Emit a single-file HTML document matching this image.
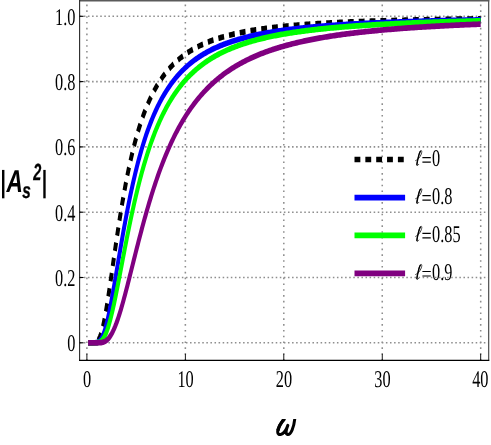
<!DOCTYPE html>
<html><head><meta charset="utf-8"><title>plot</title>
<style>
html,body{margin:0;padding:0;background:#fff;}
body{width:491px;height:445px;overflow:hidden;font-family:"Liberation Sans",sans-serif;}
svg{display:block;text-rendering:geometricPrecision;}
.t{font-family:"Liberation Serif",serif;font-size:24px;fill:#000;}
.b{font-family:"Liberation Sans",sans-serif;font-weight:bold;font-style:italic;fill:#000;}
</style></head><body>
<svg width="491" height="445" viewBox="0 0 491 445">
<rect width="491" height="445" fill="#fff"/>
<g transform="scale(0.700,1)">
<line x1="124.14" y1="360.55" x2="124.14" y2="1.00" stroke="#8e8e8e" stroke-width="2.2" stroke-dasharray="1.6 4.21"/>
<line x1="264.79" y1="360.55" x2="264.79" y2="1.00" stroke="#8e8e8e" stroke-width="2.2" stroke-dasharray="1.6 4.21"/>
<line x1="405.43" y1="360.55" x2="405.43" y2="1.00" stroke="#8e8e8e" stroke-width="2.2" stroke-dasharray="1.6 4.21"/>
<line x1="546.07" y1="360.55" x2="546.07" y2="1.00" stroke="#8e8e8e" stroke-width="2.2" stroke-dasharray="1.6 4.21"/>
<line x1="686.71" y1="360.55" x2="686.71" y2="1.00" stroke="#8e8e8e" stroke-width="2.2" stroke-dasharray="1.6 4.21"/>
<line x1="114.04" y1="342.80" x2="698.29" y2="342.80" stroke="#8e8e8e" stroke-width="1.6" stroke-dasharray="2.2 3.63"/>
<line x1="114.04" y1="277.50" x2="698.29" y2="277.50" stroke="#8e8e8e" stroke-width="1.6" stroke-dasharray="2.2 3.63"/>
<line x1="114.04" y1="212.20" x2="698.29" y2="212.20" stroke="#8e8e8e" stroke-width="1.6" stroke-dasharray="2.2 3.63"/>
<line x1="114.04" y1="146.90" x2="698.29" y2="146.90" stroke="#8e8e8e" stroke-width="1.6" stroke-dasharray="2.2 3.63"/>
<line x1="114.04" y1="81.60" x2="698.29" y2="81.60" stroke="#8e8e8e" stroke-width="1.6" stroke-dasharray="2.2 3.63"/>
<line x1="114.04" y1="16.30" x2="698.29" y2="16.30" stroke="#8e8e8e" stroke-width="1.6" stroke-dasharray="2.2 3.63"/>
<clipPath id="c"><rect x="113.57" y="1.00" width="584.71" height="359.40"/></clipPath>
<g clip-path="url(#c)" fill="none" stroke-width="5.70" stroke-linejoin="round">
<path d="M125.83 342.80 L125.87 342.80 L125.95 342.80 L126.05 342.80 L126.18 342.80 L126.34 342.80 L126.51 342.80 L126.70 342.80 L126.90 342.80 L127.13 342.80 L127.36 342.80 L127.62 342.80 L127.88 342.80 L128.16 342.80 L128.46 342.80 L128.76 342.80 L129.08 342.80 L129.41 342.80 L129.76 342.80 L130.11 342.80 L130.48 342.80 L130.86 342.80 L131.24 342.80 L131.64 342.80 L132.05 342.80 L132.47 342.79 L132.90 342.79 L133.34 342.77 L133.79 342.76 L134.25 342.73 L134.72 342.70 L135.20 342.64 L135.69 342.57 L136.19 342.47 L136.69 342.34 L137.21 342.17 L137.73 341.96 L138.27 341.69 L138.81 341.36 L139.36 340.96 L139.92 340.48 L140.49 339.91 L141.06 339.25 L141.65 338.48 L142.24 337.60 L142.84 336.60 L143.45 335.47 L144.07 334.22 L144.69 332.83 L145.32 331.30 L145.96 329.63 L146.61 327.81 L147.27 325.85 L147.93 323.75 L148.60 321.50 L149.28 319.11 L149.97 316.58 L150.66 313.92 L151.36 311.12 L152.07 308.20 L152.78 305.16 L153.51 302.01 L154.24 298.75 L154.97 295.39 L155.72 291.93 L156.47 288.40 L157.22 284.78 L157.99 281.09 L158.76 277.34 L159.54 273.54 L160.32 269.68 L161.12 265.79 L161.91 261.87 L162.72 257.91 L163.53 253.94 L164.35 249.96 L165.17 245.97 L166.01 241.98 L166.84 238.00 L167.69 234.03 L168.54 230.07 L169.40 226.14 L170.26 222.22 L171.13 218.34 L172.01 214.49 L172.89 210.68 L173.78 206.90 L174.67 203.17 L175.58 199.48 L176.48 195.84 L177.40 192.25 L178.32 188.71 L179.24 185.22 L180.17 181.78 L181.11 178.40 L182.06 175.07 L183.01 171.81 L183.96 168.59 L184.92 165.44 L185.89 162.34 L186.87 159.30 L187.84 156.32 L188.83 153.40 L189.82 150.53 L190.82 147.72 L191.82 144.97 L192.83 142.28 L193.84 139.64 L194.86 137.06 L195.89 134.53 L196.92 132.06 L197.96 129.64 L199.00 127.27 L200.05 124.96 L201.10 122.69 L202.16 120.48 L203.22 118.32 L204.30 116.20 L205.37 114.14 L206.45 112.12 L207.54 110.14 L208.63 108.21 L209.73 106.33 L210.83 104.49 L211.94 102.69 L213.05 100.93 L214.17 99.22 L215.30 97.54 L216.43 95.90 L217.56 94.30 L218.70 92.74 L219.85 91.21 L221.00 89.72 L222.16 88.26 L223.32 86.84 L224.48 85.45 L225.66 84.10 L226.83 82.77 L228.01 81.47 L229.20 80.21 L230.39 78.97 L231.59 77.76 L232.79 76.58 L234.00 75.43 L235.22 74.31 L236.43 73.21 L237.66 72.13 L238.88 71.08 L240.12 70.05 L241.36 69.05 L242.60 68.07 L243.85 67.11 L245.10 66.17 L246.36 65.26 L247.62 64.36 L248.89 63.49 L250.16 62.63 L251.44 61.79 L252.72 60.97 L254.01 60.17 L255.30 59.39 L256.60 58.63 L257.90 57.88 L259.21 57.15 L260.52 56.43 L261.83 55.73 L263.16 55.04 L264.48 54.37 L265.81 53.72 L267.15 53.07 L268.49 52.45 L269.83 51.83 L271.18 51.23 L272.54 50.64 L273.90 50.06 L275.26 49.50 L276.63 48.95 L278.00 48.40 L279.38 47.87 L280.76 47.36 L282.15 46.85 L283.54 46.35 L284.94 45.86 L286.34 45.38 L287.74 44.92 L289.16 44.46 L290.57 44.01 L291.99 43.57 L293.41 43.14 L294.84 42.71 L296.27 42.30 L297.71 41.89 L299.15 41.49 L300.60 41.10 L302.05 40.72 L303.51 40.35 L304.97 39.98 L306.43 39.62 L307.90 39.26 L309.38 38.92 L310.85 38.58 L312.34 38.24 L313.82 37.92 L315.31 37.60 L316.81 37.28 L318.31 36.97 L319.81 36.67 L321.32 36.37 L322.84 36.08 L324.35 35.79 L325.88 35.51 L327.40 35.23 L328.93 34.96 L330.47 34.70 L332.01 34.44 L333.55 34.18 L335.10 33.93 L336.65 33.68 L338.21 33.44 L339.77 33.20 L341.33 32.96 L342.90 32.73 L344.48 32.51 L346.05 32.29 L347.64 32.07 L349.22 31.85 L350.81 31.64 L352.41 31.44 L354.01 31.23 L355.61 31.03 L357.22 30.84 L358.83 30.64 L360.45 30.45 L362.07 30.27 L363.69 30.08 L365.32 29.90 L366.95 29.73 L368.59 29.55 L370.23 29.38 L371.87 29.21 L373.52 29.05 L375.18 28.88 L376.84 28.72 L378.50 28.56 L380.16 28.41 L381.83 28.26 L383.51 28.11 L385.18 27.96 L386.87 27.81 L388.55 27.67 L390.24 27.53 L391.94 27.39 L393.63 27.26 L395.34 27.12 L397.04 26.99 L398.75 26.86 L400.47 26.73 L402.19 26.61 L403.91 26.48 L405.64 26.36 L407.37 26.24 L409.10 26.12 L410.84 26.01 L412.58 25.89 L414.33 25.78 L416.08 25.67 L417.83 25.56 L419.59 25.45 L421.35 25.34 L423.12 25.24 L424.89 25.14 L426.67 25.03 L428.44 24.93 L430.23 24.84 L432.01 24.74 L433.80 24.64 L435.59 24.55 L437.39 24.46 L439.19 24.36 L441.00 24.27 L442.81 24.19 L444.62 24.10 L446.44 24.01 L448.26 23.93 L450.09 23.84 L451.91 23.76 L453.75 23.68 L455.58 23.60 L457.42 23.52 L459.27 23.44 L461.12 23.36 L462.97 23.29 L464.82 23.21 L466.68 23.14 L468.55 23.07 L470.41 23.00 L472.28 22.92 L474.16 22.85 L476.04 22.79 L477.92 22.72 L479.80 22.65 L481.69 22.58 L483.59 22.52 L485.48 22.46 L487.39 22.39 L489.29 22.33 L491.20 22.27 L493.11 22.21 L495.03 22.15 L496.95 22.09 L498.87 22.03 L500.80 21.97 L502.73 21.91 L504.66 21.86 L506.60 21.80 L508.54 21.75 L510.49 21.69 L512.44 21.64 L514.39 21.59 L516.35 21.53 L518.31 21.48 L520.27 21.43 L522.24 21.38 L524.21 21.33 L526.19 21.28 L528.17 21.24 L530.15 21.19 L532.14 21.14 L534.13 21.09 L536.12 21.05 L538.12 21.00 L540.12 20.96 L542.12 20.91 L544.13 20.87 L546.14 20.83 L548.16 20.79 L550.18 20.74 L552.20 20.70 L554.22 20.66 L556.25 20.62 L558.29 20.58 L560.32 20.54 L562.37 20.50 L564.41 20.46 L566.46 20.43 L568.51 20.39 L570.56 20.35 L572.62 20.31 L574.68 20.28 L576.75 20.24 L578.82 20.21 L580.89 20.17 L582.97 20.14 L585.05 20.10 L587.13 20.07 L589.22 20.03 L591.31 20.00 L593.40 19.97 L595.50 19.94 L597.60 19.90 L599.70 19.87 L601.81 19.84 L603.92 19.81 L606.04 19.78 L608.15 19.75 L610.28 19.72 L612.40 19.69 L614.53 19.66 L616.66 19.63 L618.80 19.60 L620.94 19.58 L623.08 19.55 L625.23 19.52 L627.38 19.49 L629.53 19.47 L631.69 19.44 L633.85 19.41 L636.01 19.39 L638.18 19.36 L640.35 19.34 L642.52 19.31 L644.70 19.29 L646.88 19.26 L649.06 19.24 L651.25 19.21 L653.44 19.19 L655.64 19.16 L657.83 19.14 L660.04 19.12 L662.24 19.09 L664.45 19.07 L666.66 19.05 L668.87 19.03 L671.09 19.01 L673.31 18.98 L675.54 18.96 L677.77 18.94 L680.00 18.92 L682.23 18.90 L684.47 18.88 L686.71 18.86" stroke="#000000" stroke-dasharray="8.35 7.15" stroke-dashoffset="0.4"/>
<path d="M125.83 342.80 L125.87 342.80 L125.95 342.80 L126.05 342.80 L126.18 342.80 L126.34 342.80 L126.51 342.80 L126.70 342.80 L126.90 342.80 L127.13 342.80 L127.36 342.80 L127.62 342.80 L127.88 342.80 L128.16 342.80 L128.46 342.80 L128.76 342.80 L129.08 342.80 L129.41 342.80 L129.76 342.80 L130.11 342.80 L130.48 342.80 L130.86 342.80 L131.24 342.80 L131.64 342.80 L132.05 342.80 L132.47 342.80 L132.90 342.80 L133.34 342.80 L133.79 342.79 L134.25 342.79 L134.72 342.78 L135.20 342.77 L135.69 342.75 L136.19 342.73 L136.69 342.69 L137.21 342.65 L137.73 342.58 L138.27 342.50 L138.81 342.39 L139.36 342.25 L139.92 342.07 L140.49 341.85 L141.06 341.59 L141.65 341.27 L142.24 340.90 L142.84 340.45 L143.45 339.94 L144.07 339.34 L144.69 338.67 L145.32 337.90 L145.96 337.03 L146.61 336.07 L147.27 335.00 L147.93 333.82 L148.60 332.53 L149.28 331.13 L149.97 329.61 L150.66 327.97 L151.36 326.22 L152.07 324.34 L152.78 322.35 L153.51 320.25 L154.24 318.02 L154.97 315.69 L155.72 313.25 L156.47 310.70 L157.22 308.05 L157.99 305.31 L158.76 302.47 L159.54 299.54 L160.32 296.53 L161.12 293.44 L161.91 290.28 L162.72 287.05 L163.53 283.77 L164.35 280.42 L165.17 277.03 L166.01 273.59 L166.84 270.12 L167.69 266.61 L168.54 263.07 L169.40 259.51 L170.26 255.94 L171.13 252.35 L172.01 248.75 L172.89 245.15 L173.78 241.55 L174.67 237.96 L175.58 234.37 L176.48 230.80 L177.40 227.24 L178.32 223.70 L179.24 220.19 L180.17 216.70 L181.11 213.24 L182.06 209.81 L183.01 206.41 L183.96 203.05 L184.92 199.72 L185.89 196.43 L186.87 193.18 L187.84 189.97 L188.83 186.80 L189.82 183.68 L190.82 180.60 L191.82 177.57 L192.83 174.58 L193.84 171.63 L194.86 168.74 L195.89 165.89 L196.92 163.09 L197.96 160.33 L199.00 157.62 L200.05 154.96 L201.10 152.35 L202.16 149.78 L203.22 147.26 L204.30 144.78 L205.37 142.36 L206.45 139.97 L207.54 137.64 L208.63 135.34 L209.73 133.10 L210.83 130.89 L211.94 128.73 L213.05 126.61 L214.17 124.54 L215.30 122.50 L216.43 120.51 L217.56 118.56 L218.70 116.65 L219.85 114.77 L221.00 112.94 L222.16 111.14 L223.32 109.38 L224.48 107.65 L225.66 105.96 L226.83 104.31 L228.01 102.69 L229.20 101.11 L230.39 99.55 L231.59 98.03 L232.79 96.55 L234.00 95.09 L235.22 93.66 L236.43 92.27 L237.66 90.90 L238.88 89.56 L240.12 88.25 L241.36 86.97 L242.60 85.71 L243.85 84.48 L245.10 83.27 L246.36 82.10 L247.62 80.94 L248.89 79.81 L250.16 78.70 L251.44 77.62 L252.72 76.56 L254.01 75.52 L255.30 74.50 L256.60 73.50 L257.90 72.53 L259.21 71.57 L260.52 70.64 L261.83 69.72 L263.16 68.82 L264.48 67.94 L265.81 67.08 L267.15 66.23 L268.49 65.41 L269.83 64.60 L271.18 63.80 L272.54 63.02 L273.90 62.26 L275.26 61.51 L276.63 60.78 L278.00 60.06 L279.38 59.36 L280.76 58.67 L282.15 57.99 L283.54 57.33 L284.94 56.68 L286.34 56.04 L287.74 55.42 L289.16 54.81 L290.57 54.21 L291.99 53.62 L293.41 53.04 L294.84 52.48 L296.27 51.92 L297.71 51.38 L299.15 50.84 L300.60 50.32 L302.05 49.80 L303.51 49.30 L304.97 48.80 L306.43 48.32 L307.90 47.84 L309.38 47.38 L310.85 46.92 L312.34 46.47 L313.82 46.02 L315.31 45.59 L316.81 45.16 L318.31 44.75 L319.81 44.34 L321.32 43.93 L322.84 43.54 L324.35 43.15 L325.88 42.77 L327.40 42.39 L328.93 42.03 L330.47 41.66 L332.01 41.31 L333.55 40.96 L335.10 40.62 L336.65 40.28 L338.21 39.95 L339.77 39.63 L341.33 39.31 L342.90 38.99 L344.48 38.69 L346.05 38.38 L347.64 38.09 L349.22 37.79 L350.81 37.51 L352.41 37.22 L354.01 36.95 L355.61 36.67 L357.22 36.40 L358.83 36.14 L360.45 35.88 L362.07 35.63 L363.69 35.38 L365.32 35.13 L366.95 34.89 L368.59 34.65 L370.23 34.41 L371.87 34.18 L373.52 33.95 L375.18 33.73 L376.84 33.51 L378.50 33.29 L380.16 33.08 L381.83 32.87 L383.51 32.67 L385.18 32.46 L386.87 32.26 L388.55 32.07 L390.24 31.87 L391.94 31.68 L393.63 31.50 L395.34 31.31 L397.04 31.13 L398.75 30.95 L400.47 30.78 L402.19 30.60 L403.91 30.43 L405.64 30.27 L407.37 30.10 L409.10 29.94 L410.84 29.78 L412.58 29.62 L414.33 29.46 L416.08 29.31 L417.83 29.16 L419.59 29.01 L421.35 28.86 L423.12 28.72 L424.89 28.58 L426.67 28.44 L428.44 28.30 L430.23 28.16 L432.01 28.03 L433.80 27.90 L435.59 27.77 L437.39 27.64 L439.19 27.51 L441.00 27.39 L442.81 27.27 L444.62 27.15 L446.44 27.03 L448.26 26.91 L450.09 26.79 L451.91 26.68 L453.75 26.57 L455.58 26.45 L457.42 26.35 L459.27 26.24 L461.12 26.13 L462.97 26.03 L464.82 25.92 L466.68 25.82 L468.55 25.72 L470.41 25.62 L472.28 25.52 L474.16 25.43 L476.04 25.33 L477.92 25.24 L479.80 25.14 L481.69 25.05 L483.59 24.96 L485.48 24.87 L487.39 24.78 L489.29 24.70 L491.20 24.61 L493.11 24.53 L495.03 24.44 L496.95 24.36 L498.87 24.28 L500.80 24.20 L502.73 24.12 L504.66 24.04 L506.60 23.97 L508.54 23.89 L510.49 23.82 L512.44 23.74 L514.39 23.67 L516.35 23.60 L518.31 23.52 L520.27 23.45 L522.24 23.38 L524.21 23.32 L526.19 23.25 L528.17 23.18 L530.15 23.11 L532.14 23.05 L534.13 22.99 L536.12 22.92 L538.12 22.86 L540.12 22.80 L542.12 22.74 L544.13 22.67 L546.14 22.61 L548.16 22.56 L550.18 22.50 L552.20 22.44 L554.22 22.38 L556.25 22.33 L558.29 22.27 L560.32 22.22 L562.37 22.16 L564.41 22.11 L566.46 22.05 L568.51 22.00 L570.56 21.95 L572.62 21.90 L574.68 21.85 L576.75 21.80 L578.82 21.75 L580.89 21.70 L582.97 21.65 L585.05 21.60 L587.13 21.56 L589.22 21.51 L591.31 21.46 L593.40 21.42 L595.50 21.37 L597.60 21.33 L599.70 21.29 L601.81 21.24 L603.92 21.20 L606.04 21.16 L608.15 21.12 L610.28 21.07 L612.40 21.03 L614.53 20.99 L616.66 20.95 L618.80 20.91 L620.94 20.87 L623.08 20.83 L625.23 20.80 L627.38 20.76 L629.53 20.72 L631.69 20.68 L633.85 20.65 L636.01 20.61 L638.18 20.57 L640.35 20.54 L642.52 20.50 L644.70 20.47 L646.88 20.43 L649.06 20.40 L651.25 20.37 L653.44 20.33 L655.64 20.30 L657.83 20.27 L660.04 20.24 L662.24 20.20 L664.45 20.17 L666.66 20.14 L668.87 20.11 L671.09 20.08 L673.31 20.05 L675.54 20.02 L677.77 19.99 L680.00 19.96 L682.23 19.93 L684.47 19.90 L686.71 19.87" stroke="#0000ff"/>
<path d="M125.83 342.80 L125.87 342.80 L125.95 342.80 L126.05 342.80 L126.18 342.80 L126.34 342.80 L126.51 342.80 L126.70 342.80 L126.90 342.80 L127.13 342.80 L127.36 342.80 L127.62 342.80 L127.88 342.80 L128.16 342.80 L128.46 342.80 L128.76 342.80 L129.08 342.80 L129.41 342.80 L129.76 342.80 L130.11 342.80 L130.48 342.80 L130.86 342.80 L131.24 342.80 L131.64 342.80 L132.05 342.80 L132.47 342.80 L132.90 342.80 L133.34 342.80 L133.79 342.80 L134.25 342.80 L134.72 342.80 L135.20 342.79 L135.69 342.79 L136.19 342.78 L136.69 342.77 L137.21 342.75 L137.73 342.73 L138.27 342.70 L138.81 342.66 L139.36 342.60 L139.92 342.53 L140.49 342.43 L141.06 342.31 L141.65 342.17 L142.24 341.99 L142.84 341.77 L143.45 341.51 L144.07 341.21 L144.69 340.85 L145.32 340.43 L145.96 339.95 L146.61 339.40 L147.27 338.78 L147.93 338.08 L148.60 337.30 L149.28 336.44 L149.97 335.49 L150.66 334.44 L151.36 333.30 L152.07 332.06 L152.78 330.73 L153.51 329.29 L154.24 327.75 L154.97 326.11 L155.72 324.37 L156.47 322.52 L157.22 320.58 L157.99 318.54 L158.76 316.40 L159.54 314.17 L160.32 311.84 L161.12 309.43 L161.91 306.93 L162.72 304.34 L163.53 301.68 L164.35 298.95 L165.17 296.14 L166.01 293.27 L166.84 290.34 L167.69 287.35 L168.54 284.30 L169.40 281.21 L170.26 278.07 L171.13 274.90 L172.01 271.69 L172.89 268.45 L173.78 265.18 L174.67 261.89 L175.58 258.59 L176.48 255.27 L177.40 251.94 L178.32 248.60 L179.24 245.26 L180.17 241.92 L181.11 238.59 L182.06 235.26 L183.01 231.95 L183.96 228.64 L184.92 225.35 L185.89 222.08 L186.87 218.84 L187.84 215.61 L188.83 212.41 L189.82 209.23 L190.82 206.09 L191.82 202.97 L192.83 199.88 L193.84 196.83 L194.86 193.81 L195.89 190.83 L196.92 187.88 L197.96 184.97 L199.00 182.10 L200.05 179.26 L201.10 176.47 L202.16 173.71 L203.22 170.99 L204.30 168.31 L205.37 165.68 L206.45 163.08 L207.54 160.53 L208.63 158.01 L209.73 155.54 L210.83 153.10 L211.94 150.71 L213.05 148.35 L214.17 146.04 L215.30 143.77 L216.43 141.53 L217.56 139.34 L218.70 137.18 L219.85 135.06 L221.00 132.98 L222.16 130.94 L223.32 128.94 L224.48 126.97 L225.66 125.04 L226.83 123.14 L228.01 121.28 L229.20 119.46 L230.39 117.66 L231.59 115.91 L232.79 114.18 L234.00 112.49 L235.22 110.83 L236.43 109.21 L237.66 107.61 L238.88 106.05 L240.12 104.51 L241.36 103.00 L242.60 101.53 L243.85 100.08 L245.10 98.66 L246.36 97.27 L247.62 95.90 L248.89 94.56 L250.16 93.25 L251.44 91.97 L252.72 90.70 L254.01 89.47 L255.30 88.25 L256.60 87.06 L257.90 85.90 L259.21 84.75 L260.52 83.63 L261.83 82.53 L263.16 81.45 L264.48 80.39 L265.81 79.35 L267.15 78.34 L268.49 77.34 L269.83 76.36 L271.18 75.40 L272.54 74.46 L273.90 73.54 L275.26 72.63 L276.63 71.74 L278.00 70.87 L279.38 70.02 L280.76 69.18 L282.15 68.35 L283.54 67.55 L284.94 66.75 L286.34 65.98 L287.74 65.22 L289.16 64.47 L290.57 63.73 L291.99 63.01 L293.41 62.31 L294.84 61.61 L296.27 60.93 L297.71 60.26 L299.15 59.61 L300.60 58.96 L302.05 58.33 L303.51 57.71 L304.97 57.10 L306.43 56.50 L307.90 55.92 L309.38 55.34 L310.85 54.77 L312.34 54.22 L313.82 53.67 L315.31 53.14 L316.81 52.61 L318.31 52.09 L319.81 51.59 L321.32 51.09 L322.84 50.60 L324.35 50.11 L325.88 49.64 L327.40 49.18 L328.93 48.72 L330.47 48.27 L332.01 47.83 L333.55 47.40 L335.10 46.97 L336.65 46.55 L338.21 46.14 L339.77 45.74 L341.33 45.34 L342.90 44.95 L344.48 44.57 L346.05 44.19 L347.64 43.82 L349.22 43.45 L350.81 43.10 L352.41 42.74 L354.01 42.40 L355.61 42.06 L357.22 41.72 L358.83 41.39 L360.45 41.07 L362.07 40.75 L363.69 40.43 L365.32 40.12 L366.95 39.82 L368.59 39.52 L370.23 39.23 L371.87 38.94 L373.52 38.65 L375.18 38.37 L376.84 38.10 L378.50 37.83 L380.16 37.56 L381.83 37.30 L383.51 37.04 L385.18 36.78 L386.87 36.53 L388.55 36.29 L390.24 36.04 L391.94 35.80 L393.63 35.57 L395.34 35.34 L397.04 35.11 L398.75 34.89 L400.47 34.66 L402.19 34.45 L403.91 34.23 L405.64 34.02 L407.37 33.81 L409.10 33.61 L410.84 33.41 L412.58 33.21 L414.33 33.01 L416.08 32.82 L417.83 32.63 L419.59 32.44 L421.35 32.26 L423.12 32.07 L424.89 31.89 L426.67 31.72 L428.44 31.54 L430.23 31.37 L432.01 31.20 L433.80 31.04 L435.59 30.87 L437.39 30.71 L439.19 30.55 L441.00 30.39 L442.81 30.24 L444.62 30.09 L446.44 29.94 L448.26 29.79 L450.09 29.64 L451.91 29.50 L453.75 29.35 L455.58 29.21 L457.42 29.08 L459.27 28.94 L461.12 28.80 L462.97 28.67 L464.82 28.54 L466.68 28.41 L468.55 28.28 L470.41 28.16 L472.28 28.03 L474.16 27.91 L476.04 27.79 L477.92 27.67 L479.80 27.55 L481.69 27.44 L483.59 27.32 L485.48 27.21 L487.39 27.10 L489.29 26.99 L491.20 26.88 L493.11 26.77 L495.03 26.67 L496.95 26.56 L498.87 26.46 L500.80 26.36 L502.73 26.26 L504.66 26.16 L506.60 26.06 L508.54 25.97 L510.49 25.87 L512.44 25.78 L514.39 25.68 L516.35 25.59 L518.31 25.50 L520.27 25.41 L522.24 25.32 L524.21 25.24 L526.19 25.15 L528.17 25.07 L530.15 24.98 L532.14 24.90 L534.13 24.82 L536.12 24.74 L538.12 24.66 L540.12 24.58 L542.12 24.50 L544.13 24.42 L546.14 24.35 L548.16 24.27 L550.18 24.20 L552.20 24.13 L554.22 24.05 L556.25 23.98 L558.29 23.91 L560.32 23.84 L562.37 23.77 L564.41 23.70 L566.46 23.64 L568.51 23.57 L570.56 23.50 L572.62 23.44 L574.68 23.37 L576.75 23.31 L578.82 23.25 L580.89 23.19 L582.97 23.13 L585.05 23.06 L587.13 23.00 L589.22 22.95 L591.31 22.89 L593.40 22.83 L595.50 22.77 L597.60 22.72 L599.70 22.66 L601.81 22.60 L603.92 22.55 L606.04 22.50 L608.15 22.44 L610.28 22.39 L612.40 22.34 L614.53 22.29 L616.66 22.23 L618.80 22.18 L620.94 22.13 L623.08 22.08 L625.23 22.04 L627.38 21.99 L629.53 21.94 L631.69 21.89 L633.85 21.85 L636.01 21.80 L638.18 21.75 L640.35 21.71 L642.52 21.66 L644.70 21.62 L646.88 21.58 L649.06 21.53 L651.25 21.49 L653.44 21.45 L655.64 21.40 L657.83 21.36 L660.04 21.32 L662.24 21.28 L664.45 21.24 L666.66 21.20 L668.87 21.16 L671.09 21.12 L673.31 21.08 L675.54 21.05 L677.77 21.01 L680.00 20.97 L682.23 20.93 L684.47 20.90 L686.71 20.86" stroke="#00ff00"/>
<path d="M125.83 342.80 L125.87 342.80 L125.95 342.80 L126.05 342.80 L126.18 342.80 L126.34 342.80 L126.51 342.80 L126.70 342.80 L126.90 342.80 L127.13 342.80 L127.36 342.80 L127.62 342.80 L127.88 342.80 L128.16 342.80 L128.46 342.80 L128.76 342.80 L129.08 342.80 L129.41 342.80 L129.76 342.80 L130.11 342.80 L130.48 342.80 L130.86 342.80 L131.24 342.80 L131.64 342.80 L132.05 342.80 L132.47 342.80 L132.90 342.80 L133.34 342.80 L133.79 342.80 L134.25 342.80 L134.72 342.80 L135.20 342.80 L135.69 342.80 L136.19 342.80 L136.69 342.80 L137.21 342.80 L137.73 342.80 L138.27 342.79 L138.81 342.79 L139.36 342.79 L139.92 342.78 L140.49 342.77 L141.06 342.76 L141.65 342.74 L142.24 342.72 L142.84 342.69 L143.45 342.65 L144.07 342.61 L144.69 342.55 L145.32 342.47 L145.96 342.38 L146.61 342.27 L147.27 342.14 L147.93 341.99 L148.60 341.80 L149.28 341.59 L149.97 341.34 L150.66 341.06 L151.36 340.74 L152.07 340.38 L152.78 339.96 L153.51 339.51 L154.24 339.00 L154.97 338.43 L155.72 337.81 L156.47 337.13 L157.22 336.38 L157.99 335.57 L158.76 334.70 L159.54 333.76 L160.32 332.75 L161.12 331.66 L161.91 330.51 L162.72 329.29 L163.53 327.99 L164.35 326.62 L165.17 325.17 L166.01 323.66 L166.84 322.07 L167.69 320.41 L168.54 318.68 L169.40 316.88 L170.26 315.01 L171.13 313.07 L172.01 311.07 L172.89 309.01 L173.78 306.89 L174.67 304.70 L175.58 302.47 L176.48 300.17 L177.40 297.83 L178.32 295.43 L179.24 292.99 L180.17 290.51 L181.11 287.99 L182.06 285.42 L183.01 282.82 L183.96 280.19 L184.92 277.53 L185.89 274.84 L186.87 272.13 L187.84 269.39 L188.83 266.63 L189.82 263.86 L190.82 261.07 L191.82 258.28 L192.83 255.47 L193.84 252.65 L194.86 249.83 L195.89 247.01 L196.92 244.18 L197.96 241.36 L199.00 238.54 L200.05 235.73 L201.10 232.92 L202.16 230.13 L203.22 227.34 L204.30 224.57 L205.37 221.80 L206.45 219.06 L207.54 216.33 L208.63 213.61 L209.73 210.92 L210.83 208.25 L211.94 205.59 L213.05 202.96 L214.17 200.35 L215.30 197.76 L216.43 195.20 L217.56 192.66 L218.70 190.15 L219.85 187.67 L221.00 185.21 L222.16 182.77 L223.32 180.37 L224.48 177.99 L225.66 175.64 L226.83 173.32 L228.01 171.02 L229.20 168.76 L230.39 166.52 L231.59 164.32 L232.79 162.14 L234.00 159.99 L235.22 157.87 L236.43 155.78 L237.66 153.72 L238.88 151.68 L240.12 149.68 L241.36 147.70 L242.60 145.75 L243.85 143.84 L245.10 141.94 L246.36 140.08 L247.62 138.25 L248.89 136.44 L250.16 134.66 L251.44 132.91 L252.72 131.18 L254.01 129.48 L255.30 127.81 L256.60 126.16 L257.90 124.54 L259.21 122.95 L260.52 121.38 L261.83 119.83 L263.16 118.31 L264.48 116.81 L265.81 115.34 L267.15 113.89 L268.49 112.47 L269.83 111.06 L271.18 109.68 L272.54 108.33 L273.90 106.99 L275.26 105.68 L276.63 104.39 L278.00 103.12 L279.38 101.86 L280.76 100.64 L282.15 99.43 L283.54 98.24 L284.94 97.07 L286.34 95.91 L287.74 94.78 L289.16 93.67 L290.57 92.57 L291.99 91.50 L293.41 90.44 L294.84 89.40 L296.27 88.37 L297.71 87.36 L299.15 86.37 L300.60 85.40 L302.05 84.44 L303.51 83.49 L304.97 82.57 L306.43 81.65 L307.90 80.75 L309.38 79.87 L310.85 79.00 L312.34 78.15 L313.82 77.31 L315.31 76.48 L316.81 75.67 L318.31 74.87 L319.81 74.08 L321.32 73.31 L322.84 72.54 L324.35 71.79 L325.88 71.06 L327.40 70.33 L328.93 69.62 L330.47 68.91 L332.01 68.22 L333.55 67.54 L335.10 66.87 L336.65 66.22 L338.21 65.57 L339.77 64.93 L341.33 64.30 L342.90 63.68 L344.48 63.08 L346.05 62.48 L347.64 61.89 L349.22 61.31 L350.81 60.74 L352.41 60.18 L354.01 59.62 L355.61 59.08 L357.22 58.54 L358.83 58.01 L360.45 57.50 L362.07 56.98 L363.69 56.48 L365.32 55.98 L366.95 55.50 L368.59 55.02 L370.23 54.54 L371.87 54.08 L373.52 53.62 L375.18 53.16 L376.84 52.72 L378.50 52.28 L380.16 51.85 L381.83 51.42 L383.51 51.00 L385.18 50.59 L386.87 50.18 L388.55 49.78 L390.24 49.39 L391.94 49.00 L393.63 48.62 L395.34 48.24 L397.04 47.87 L398.75 47.50 L400.47 47.14 L402.19 46.78 L403.91 46.43 L405.64 46.09 L407.37 45.75 L409.10 45.41 L410.84 45.08 L412.58 44.75 L414.33 44.43 L416.08 44.12 L417.83 43.80 L419.59 43.49 L421.35 43.19 L423.12 42.89 L424.89 42.60 L426.67 42.31 L428.44 42.02 L430.23 41.74 L432.01 41.46 L433.80 41.18 L435.59 40.91 L437.39 40.64 L439.19 40.38 L441.00 40.12 L442.81 39.86 L444.62 39.61 L446.44 39.36 L448.26 39.11 L450.09 38.87 L451.91 38.63 L453.75 38.40 L455.58 38.16 L457.42 37.93 L459.27 37.71 L461.12 37.48 L462.97 37.26 L464.82 37.04 L466.68 36.83 L468.55 36.62 L470.41 36.41 L472.28 36.20 L474.16 36.00 L476.04 35.79 L477.92 35.60 L479.80 35.40 L481.69 35.21 L483.59 35.02 L485.48 34.83 L487.39 34.64 L489.29 34.46 L491.20 34.28 L493.11 34.10 L495.03 33.92 L496.95 33.75 L498.87 33.57 L500.80 33.40 L502.73 33.24 L504.66 33.07 L506.60 32.91 L508.54 32.74 L510.49 32.58 L512.44 32.43 L514.39 32.27 L516.35 32.12 L518.31 31.97 L520.27 31.82 L522.24 31.67 L524.21 31.52 L526.19 31.38 L528.17 31.23 L530.15 31.09 L532.14 30.95 L534.13 30.82 L536.12 30.68 L538.12 30.55 L540.12 30.41 L542.12 30.28 L544.13 30.15 L546.14 30.02 L548.16 29.90 L550.18 29.77 L552.20 29.65 L554.22 29.53 L556.25 29.41 L558.29 29.29 L560.32 29.17 L562.37 29.05 L564.41 28.94 L566.46 28.82 L568.51 28.71 L570.56 28.60 L572.62 28.49 L574.68 28.38 L576.75 28.27 L578.82 28.17 L580.89 28.06 L582.97 27.96 L585.05 27.86 L587.13 27.76 L589.22 27.66 L591.31 27.56 L593.40 27.46 L595.50 27.36 L597.60 27.27 L599.70 27.17 L601.81 27.08 L603.92 26.99 L606.04 26.89 L608.15 26.80 L610.28 26.71 L612.40 26.63 L614.53 26.54 L616.66 26.45 L618.80 26.37 L620.94 26.28 L623.08 26.20 L625.23 26.11 L627.38 26.03 L629.53 25.95 L631.69 25.87 L633.85 25.79 L636.01 25.71 L638.18 25.64 L640.35 25.56 L642.52 25.48 L644.70 25.41 L646.88 25.33 L649.06 25.26 L651.25 25.19 L653.44 25.11 L655.64 25.04 L657.83 24.97 L660.04 24.90 L662.24 24.83 L664.45 24.76 L666.66 24.70 L668.87 24.63 L671.09 24.56 L673.31 24.50 L675.54 24.43 L677.77 24.37 L680.00 24.31 L682.23 24.24 L684.47 24.18 L686.71 24.12" stroke="#800080"/>
</g>
<line x1="113.57" y1="0.8" x2="699.00" y2="0.8" stroke="#5a5a5a" stroke-width="1.6"/>
<line x1="698.07" y1="0" x2="698.07" y2="360.40" stroke="#5a5a5a" stroke-width="1.86"/>
<line x1="113.71" y1="0" x2="113.71" y2="360.95" stroke="#2a2a2a" stroke-width="1.6"/>
<line x1="112.86" y1="360.40" x2="699.00" y2="360.40" stroke="#000" stroke-width="1.1"/>
<line x1="124.14" y1="360.40" x2="124.14" y2="353.80" stroke="#000" stroke-width="1.3"/>
<line x1="264.79" y1="360.40" x2="264.79" y2="353.80" stroke="#000" stroke-width="1.3"/>
<line x1="405.43" y1="360.40" x2="405.43" y2="353.80" stroke="#000" stroke-width="1.3"/>
<line x1="546.07" y1="360.40" x2="546.07" y2="353.80" stroke="#000" stroke-width="1.3"/>
<line x1="686.71" y1="360.40" x2="686.71" y2="353.80" stroke="#000" stroke-width="1.3"/>
<line x1="113.57" y1="342.80" x2="119.37" y2="342.80" stroke="#000" stroke-width="1.1"/>
<line x1="113.57" y1="277.50" x2="119.37" y2="277.50" stroke="#000" stroke-width="1.1"/>
<line x1="113.57" y1="212.20" x2="119.37" y2="212.20" stroke="#000" stroke-width="1.1"/>
<line x1="113.57" y1="146.90" x2="119.37" y2="146.90" stroke="#000" stroke-width="1.1"/>
<line x1="113.57" y1="81.60" x2="119.37" y2="81.60" stroke="#000" stroke-width="1.1"/>
<line x1="113.57" y1="16.30" x2="119.37" y2="16.30" stroke="#000" stroke-width="1.1"/>
<line x1="506.43" y1="159.50" x2="578.71" y2="159.50" stroke="#000" stroke-width="5.70" stroke-dasharray="8.35 7.15"/>
<line x1="506.43" y1="197.60" x2="578.71" y2="197.60" stroke="#0000ff" stroke-width="5.70"/>
<line x1="506.43" y1="235.30" x2="578.71" y2="235.30" stroke="#00ff00" stroke-width="5.70"/>
<line x1="506.43" y1="273.40" x2="578.71" y2="273.40" stroke="#800080" stroke-width="5.70"/>
</g>
<g opacity="0.999">
<text class="t" transform="translate(87.10,387.30) scale(0.680,1)" text-anchor="middle">0</text>
<text class="t" transform="translate(185.55,387.30) scale(0.680,1)" text-anchor="middle">10</text>
<text class="t" transform="translate(284.00,387.30) scale(0.680,1)" text-anchor="middle">20</text>
<text class="t" transform="translate(382.45,387.30) scale(0.680,1)" text-anchor="middle">30</text>
<text class="t" transform="translate(480.35,387.30) scale(0.680,1)" text-anchor="middle">40</text>
<text class="t" transform="translate(75.45,351.10) scale(0.680,1)" text-anchor="end">0</text>
<text class="t" transform="translate(75.45,285.80) scale(0.680,1)" text-anchor="end">0.2</text>
<text class="t" transform="translate(75.45,220.50) scale(0.680,1)" text-anchor="end">0.4</text>
<text class="t" transform="translate(75.45,155.20) scale(0.680,1)" text-anchor="end">0.6</text>
<text class="t" transform="translate(75.45,89.90) scale(0.680,1)" text-anchor="end">0.8</text>
<text class="t" transform="translate(75.45,24.60) scale(0.680,1)" text-anchor="end">1.0</text>
<g transform="translate(0,0.00)" fill="none" stroke="#000" stroke-linecap="round" stroke-linejoin="round"><path d="M415.7 160.6 C417.8 160.0 420.2 157.0 421.3 154.0 C422.1 151.6 421.9 150.4 421.1 150.5 C420.2 150.6 419.5 152.4 418.9 154.6 C418.0 158.4 416.8 163.0 416.9 165.0 C417.0 166.0 417.9 165.4 418.8 164.3" stroke-width="0.75"/><path d="M420.4 151.3 C419.8 152.2 419.3 153.6 418.8 155.4 C418.0 158.8 417.0 162.6 416.9 164.8" stroke-width="1.35"/><path d="M422.4 157.6 H430.8 M422.4 162.1 H430.8" stroke-width="1.2" stroke-linecap="butt"/></g>
<text class="t" transform="translate(432.00,166.00) scale(0.680,1)" text-anchor="start">0</text>
<g transform="translate(0,38.10)" fill="none" stroke="#000" stroke-linecap="round" stroke-linejoin="round"><path d="M415.7 160.6 C417.8 160.0 420.2 157.0 421.3 154.0 C422.1 151.6 421.9 150.4 421.1 150.5 C420.2 150.6 419.5 152.4 418.9 154.6 C418.0 158.4 416.8 163.0 416.9 165.0 C417.0 166.0 417.9 165.4 418.8 164.3" stroke-width="0.75"/><path d="M420.4 151.3 C419.8 152.2 419.3 153.6 418.8 155.4 C418.0 158.8 417.0 162.6 416.9 164.8" stroke-width="1.35"/><path d="M422.4 157.6 H430.8 M422.4 162.1 H430.8" stroke-width="1.2" stroke-linecap="butt"/></g>
<text class="t" transform="translate(432.00,204.10) scale(0.680,1)" text-anchor="start">0.8</text>
<g transform="translate(0,75.80)" fill="none" stroke="#000" stroke-linecap="round" stroke-linejoin="round"><path d="M415.7 160.6 C417.8 160.0 420.2 157.0 421.3 154.0 C422.1 151.6 421.9 150.4 421.1 150.5 C420.2 150.6 419.5 152.4 418.9 154.6 C418.0 158.4 416.8 163.0 416.9 165.0 C417.0 166.0 417.9 165.4 418.8 164.3" stroke-width="0.75"/><path d="M420.4 151.3 C419.8 152.2 419.3 153.6 418.8 155.4 C418.0 158.8 417.0 162.6 416.9 164.8" stroke-width="1.35"/><path d="M422.4 157.6 H430.8 M422.4 162.1 H430.8" stroke-width="1.2" stroke-linecap="butt"/></g>
<text class="t" transform="translate(432.00,241.80) scale(0.680,1)" text-anchor="start">0.85</text>
<g transform="translate(0,113.90)" fill="none" stroke="#000" stroke-linecap="round" stroke-linejoin="round"><path d="M415.7 160.6 C417.8 160.0 420.2 157.0 421.3 154.0 C422.1 151.6 421.9 150.4 421.1 150.5 C420.2 150.6 419.5 152.4 418.9 154.6 C418.0 158.4 416.8 163.0 416.9 165.0 C417.0 166.0 417.9 165.4 418.8 164.3" stroke-width="0.75"/><path d="M420.4 151.3 C419.8 152.2 419.3 153.6 418.8 155.4 C418.0 158.8 417.0 162.6 416.9 164.8" stroke-width="1.35"/><path d="M422.4 157.6 H430.8 M422.4 162.1 H430.8" stroke-width="1.2" stroke-linecap="butt"/></g>
<text class="t" transform="translate(432.00,279.90) scale(0.680,1)" text-anchor="start">0.9</text>
<clipPath id="wc"><rect x="270" y="419.2" width="32" height="25"/></clipPath>
<g clip-path="url(#wc)" fill="none" stroke="#000" stroke-linejoin="round"><path d="M284.6 418.6 C281.4 422.2 278.0 428.2 277.7 431.6 C277.5 434.3 279.4 435.0 281.0 434.4 C283.6 433.4 286.3 429.6 287.8 425.4 C286.3 429.2 285.0 434.0 287.7 434.5 C290.8 434.9 293.9 427.6 294.8 418.6" stroke-width="3.0"/><path d="M284.6 418.6 C281.6 422.0 278.6 427.2 277.9 430.6" stroke-width="3.35"/></g>
<text class="b" transform="translate(0.23,192.00) scale(0.620,1)" style="font-size:30.5px" stroke="#000" stroke-width="0">|</text>
<text class="b" transform="translate(6.56,191.70) scale(0.720,1)" style="font-size:31.5px" stroke="#000" stroke-width="0">A</text>
<text class="b" transform="translate(22.30,197.60) scale(0.700,1)" style="font-size:22px" stroke="#000" stroke-width="0.3">s</text>
<text class="b" transform="translate(33.20,179.60) scale(0.620,1)" style="font-size:23.3px" stroke="#000" stroke-width="0.3">2</text>
<text class="b" transform="translate(41.58,192.00) scale(0.620,1)" style="font-size:30.5px" stroke="#000" stroke-width="0">|</text>
</g>
</svg>
</body></html>
